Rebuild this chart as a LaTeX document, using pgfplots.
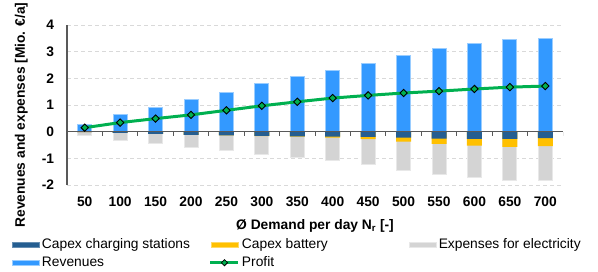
\documentclass[border=0pt]{standalone}
\usepackage{fontspec}
\setmainfont{Liberation Sans}
\usepackage{pgfplots}
\pgfplotsset{compat=1.18}
\usepackage{pgfplotstable}
\definecolor{revblue}{HTML}{3399FF}
\definecolor{revedge}{HTML}{9ACDFF}
\definecolor{darkblue}{HTML}{255E91}
\definecolor{capyel}{HTML}{FFC000}
\definecolor{elgray}{HTML}{D4D4D4}
\definecolor{eledge}{HTML}{E8E8E8}
\definecolor{profgreen}{HTML}{00B050}
\definecolor{axgray}{HTML}{595959}
\definecolor{gridgray}{HTML}{D9D9D9}
\newcommand\cf{\fontsize{13.8}{16}\selectfont}
\pgfplotsset{
  proflegend/.style={legend image code/.code={\draw[mark repeat=2, mark phase=2, ##1] plot coordinates {(0pt,0pt) (14pt,0pt) (28pt,0pt)};}},
  barlegend/.style={legend image code/.code={\path[##1] (0.5pt,-2.5pt) rectangle (27.5pt,2.5pt);}},
}

% rev = revenues; csb = bottom of capex charging stations;
% batb = bottom of capex battery; tot = bottom of electricity expenses
\pgfplotstableread{
x N   rev  csb   batb   tot   profit
0 50  0.28 -0.02 -0.02  -0.16 0.15
1 100 0.65 -0.05 -0.05  -0.34 0.34
2 150 0.90 -0.08 -0.08  -0.44 0.49
3 200 1.20 -0.12 -0.12  -0.59 0.63
4 250 1.48 -0.14 -0.14  -0.71 0.80
5 300 1.80 -0.16 -0.165 -0.85 0.97
6 350 2.06 -0.18 -0.19  -0.97 1.12
7 400 2.30 -0.19 -0.22  -1.07 1.26
8 450 2.57 -0.20 -0.28  -1.25 1.36
9 500 2.85 -0.22 -0.37  -1.44 1.45
10 550 3.11 -0.26 -0.46 -1.61 1.52
11 600 3.30 -0.27 -0.52 -1.73 1.60
12 650 3.47 -0.27 -0.57 -1.84 1.67
13 700 3.51 -0.24 -0.54 -1.83 1.71
}\data

\begin{document}
\begin{tikzpicture}
\begin{axis}[
  scale only axis, width=496pt, height=160pt,
  xmin=-0.5, xmax=13.5, ymin=-2, ymax=4,
  axis x line*=bottom, axis y line*=left,
  x axis line style={draw=none},
  y axis line style={-, draw=axgray, line width=1.2pt},
  xtick={0,...,13}, xticklabels from table={\data}{N},
  ytick={-2,-1,0,1,2,3,4}, yticklabels={-2,-1,0,1,2,3,4},
  major tick length=0pt,
  xtick style={draw=none}, ytick style={draw=none},
  /pgf/number format/assume math mode=true,
  ticklabel style={font=\cf\bfseries},
  xticklabel style={anchor=north, inner sep=0pt, yshift=-12pt},
  yticklabel style={anchor=east, inner sep=0pt, xshift=-12.7pt},
  ymajorgrids,
  major grid style={gridgray, line width=0.8pt, dash pattern=on 4pt off 3pt},
  every axis x label/.style={at={(axis description cs:0.5,0)}, anchor=base, yshift=-44pt, font=\cf\bfseries},
  every axis y label/.style={at={(axis description cs:-0.0847,0.4375)}, rotate=90, anchor=base, font=\cf\bfseries},
  xlabel={Ø Demand per day N\textsubscript{r} [-]},
  ylabel={Revenues and expenses [Mio. €/a]},
  legend columns=3,
  legend cell align=left,
  legend style={draw=none, fill=none, inner sep=0pt, outer sep=0pt,
    at={(rel axis cs:-0.1105,-0.335)}, anchor=north west,
    font=\cf, row sep=4.6pt,
    nodes={inner sep=0pt, text height=10pt, text depth=3pt},
    /tikz/every odd column/.append style={column sep=2pt}},
]
\addplot[ybar, bar width=14pt, bar shift=0pt, fill=elgray, draw=eledge, line width=1pt, forget plot]
  table[x=x, y=tot] {\data};
\addplot[ybar, bar width=15pt, bar shift=0pt, fill=capyel, draw=none, forget plot]
  table[x=x, y=batb] {\data};
\addplot[ybar, bar width=15pt, bar shift=0pt, fill=darkblue, draw=none, forget plot]
  table[x=x, y=csb] {\data};
\addplot[ybar, bar width=14pt, bar shift=0pt, fill=revblue, draw=revedge, line width=1pt, forget plot]
  table[x=x, y=rev] {\data};
\draw[axgray, line width=1.2pt] (axis cs:-0.5,0) -- (axis cs:13.5,0);
\pgfplotsinvokeforeach{0.5,1.5,...,13.5}{
  \draw[axgray, line width=1pt] (axis cs:#1,0) -- ++(0pt,-4pt);
}
\addplot[profgreen, line width=3pt, mark=square*, mark size=2.6pt,
  mark options={rotate=45, fill=profgreen, draw=black, line width=0.9pt}, forget plot]
  table[x=x, y=profit] {\data};

\addlegendimage{barlegend, fill=darkblue, draw=darkblue!70!white, line width=0.8pt}
\addlegendentry{\makebox[167pt][l]{Capex charging stations}}
\addlegendimage{barlegend, fill=capyel, draw=capyel!60!white, line width=0.8pt}
\addlegendentry{\makebox[167pt][l]{Capex battery}}
\addlegendimage{barlegend, fill=elgray, draw=eledge, line width=0.8pt}
\addlegendentry{\makebox[150pt][l]{Expenses for electricity}}
\addlegendimage{barlegend, fill=revblue, draw=revedge, line width=0.8pt}
\addlegendentry{\makebox[167pt][l]{Revenues}}
\addlegendimage{proflegend, profgreen, line width=3pt, mark=square*, mark size=2.2pt,
  mark options={rotate=45, fill=profgreen, draw=black, line width=0.8pt}}
\addlegendentry{\makebox[167pt][l]{Profit}}

\coordinate (BL) at (rel axis cs:0,0);
\coordinate (TR) at (rel axis cs:1,1);
\end{axis}
\pgfresetboundingbox
\path[use as bounding box] ([shift={(-67pt,-87pt)}]BL) rectangle ([shift={(35pt,25pt)}]TR);
\end{tikzpicture}
\end{document}
